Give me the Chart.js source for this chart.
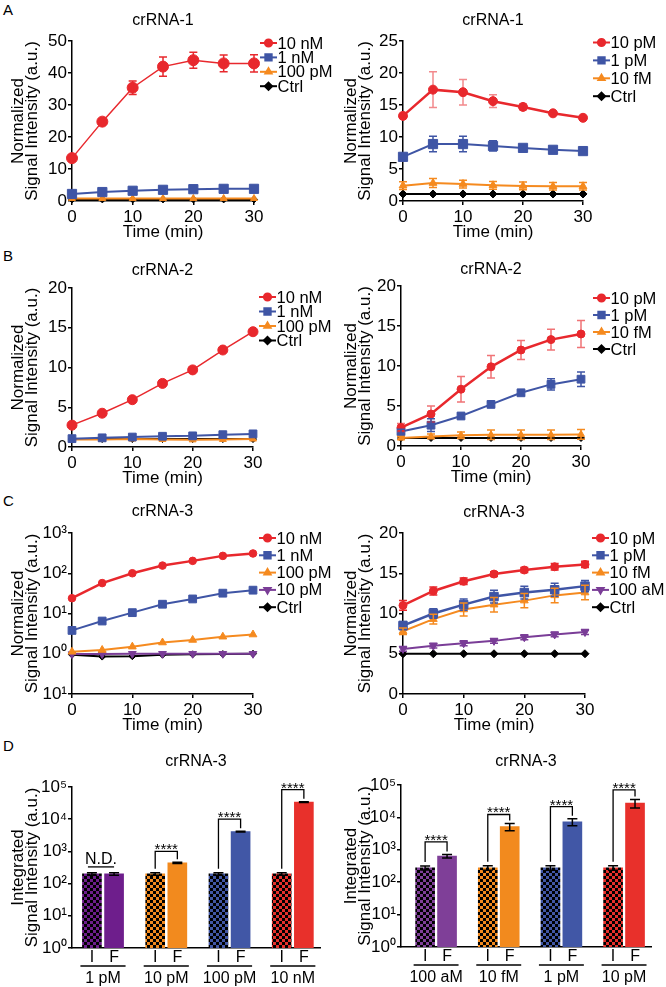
<!DOCTYPE html>
<html>
<head>
<meta charset="utf-8">
<script src="https://cdn.jsdelivr.net/npm/chart.js@4.4.1/dist/chart.umd.min.js"></script>
<style>
  html, body { margin: 0; padding: 0; background: #fff; }
  body { width: 666px; height: 987px; position: relative; overflow: hidden; font-family: 'Liberation Sans', Arial, sans-serif; }
  canvas { position: absolute; }
  .tag { position: absolute; font-size: 15px; color: #000; line-height: 15px; }
</style>
</head>
<body>
<div class="tag" style="left:3px;top:2px">A</div>
<div class="tag" style="left:3px;top:248px">B</div>
<div class="tag" style="left:3px;top:493px">C</div>
<div class="tag" style="left:3px;top:738px">D</div>

<canvas id="aLeft"></canvas>
<canvas id="aRight"></canvas>
<canvas id="bLeft"></canvas>
<canvas id="bRight"></canvas>
<canvas id="cLeft"></canvas>
<canvas id="cRight"></canvas>
<canvas id="dLeft"></canvas>
<canvas id="dRight"></canvas>

<script>
// ---- data ----
const timeMin = [0, 5, 10, 15, 20, 25, 30];

// A, crRNA-1 (high concentrations)
const a1_10nM = [13.4, 24.8, 35.4, 42.0, 44.0, 43.0, 43.0];
const a1_10nM_err = [0.6, 0.6, 2.1, 3.0, 2.5, 2.6, 2.7];
const a1_1nM = [2.2, 2.8, 3.2, 3.5, 3.7, 3.8, 3.8];
const a1_100pM = [0.8, 0.8, 0.8, 0.8, 0.8, 0.8, 0.8];
const a1_ctrl = [0.5, 0.5, 0.5, 0.5, 0.5, 0.5, 0.5];

// A, crRNA-1 (low concentrations)
const a2_10pM = [13.3, 17.4, 17.0, 15.6, 14.7, 13.7, 13.0];
const a2_10pM_err = [0.4, 2.8, 2.0, 1.0, 0.5, 0.3, 0.2];
const a2_1pM = [6.9, 8.9, 8.9, 8.6, 8.3, 8.0, 7.8];
const a2_1pM_err = [0.3, 1.2, 1.2, 0.8, 0.5, 0.3, 0.2];
const a2_10fM = [2.4, 2.8, 2.65, 2.45, 2.35, 2.3, 2.3];
const a2_10fM_err = [0.6, 0.7, 0.6, 0.6, 0.6, 0.6, 0.6];
const a2_ctrl = [1.1, 1.1, 1.1, 1.1, 1.1, 1.1, 1.1];

// B, crRNA-2
const b1_10nM = [2.75, 4.25, 5.95, 8.0, 9.7, 12.2, 14.5];
const b1_1nM = [1.05, 1.15, 1.25, 1.35, 1.4, 1.55, 1.65];
const b1_100pM = [0.95, 0.95, 1.0, 0.95, 0.9, 0.95, 1.0];
const b1_ctrl = [1.0, 1.0, 1.0, 1.0, 1.0, 1.0, 1.0];

const b2_10pM = [2.3, 4.0, 7.1, 9.9, 12.0, 13.3, 14.0];
const b2_10pM_err = [0.5, 1.0, 1.6, 1.4, 1.2, 1.3, 1.7];
const b2_1pM = [1.8, 2.6, 3.75, 5.2, 6.65, 7.7, 8.35];
const b2_1pM_err = [0.3, 0.8, 0.3, 0.3, 0.3, 0.7, 0.9];
const b2_10fM = [1.0, 1.2, 1.35, 1.4, 1.4, 1.4, 1.45];
const b2_10fM_err = [0.2, 0.3, 0.4, 0.6, 0.6, 0.6, 0.6];
const b2_ctrl = [1.0, 1.0, 1.0, 1.0, 1.0, 1.0, 1.0];

// C, crRNA-3
const c1_10nM = [24, 57, 100, 155, 203, 270, 310];
const c1_1nM = [3.8, 6.5, 10.5, 17, 23, 32, 38];
const c1_100pM = [1.12, 1.24, 1.5, 1.9, 2.2, 2.65, 3.0];
const c1_10pM = [0.98, 0.98, 1.0, 1.0, 1.0, 1.0, 1.0];
const c1_ctrl = [0.95, 0.85, 0.87, 0.95, 0.97, 0.98, 1.0];
const cLogTicks = [0.1, 1, 10, 100, 1000];
const cLogTickLabels = ['10¹', '10⁰', '10¹', '10²', '10³'];

const c2_10pM = [11.0, 12.8, 14.0, 14.9, 15.4, 15.8, 16.1];
const c2_10pM_err = [0.6, 0.5, 0.4, 0.3, 0.3, 0.4, 0.4];
const c2_1pM = [8.5, 10.0, 11.1, 12.1, 12.6, 12.95, 13.4];
const c2_1pM_err = [0.5, 0.6, 0.7, 0.8, 0.8, 0.8, 0.7];
const c2_10fM = [7.8, 9.3, 10.5, 11.1, 11.6, 12.25, 12.6];
const c2_10fM_err = [0.4, 0.6, 0.8, 0.9, 0.9, 0.9, 0.9];
const c2_100aM = [5.6, 6.0, 6.3, 6.6, 7.05, 7.4, 7.7];
const c2_100aM_err = [0.3, 0.3, 0.3, 0.3, 0.3, 0.3, 0.3];
const c2_ctrl = [5.0, 5.0, 5.0, 5.0, 5.0, 5.0, 5.0];

// D, integrated signal (I = initial, F = final)
const dPairLabels = ['I', 'F'];
const dLogTicks = [1, 10, 100, 1000, 10000, 100000];
const dLogTickLabels = ['10⁰', '10¹', '10²', '10³', '10⁴', '10⁵'];

const dLeftGroups = ['1 pM', '10 pM', '100 pM', '10 nM'];
const dLeftInitial = [200, 200, 200, 200];
const dLeftInitialErr = [18, 18, 18, 18];
const dLeftFinal = [200, 440, 4100, 34000];
const dLeftFinalErr = [18, 20, 120, 900];
const dLeftBracket = [330, 1000, 10000, 83000];
const dLeftMarks = ['N.D.', '****', '****', '****'];

const dRightGroups = ['100 aM', '10 fM', '1 pM', '10 pM'];
const dRightInitial = [277, 277, 277, 277];
const dRightInitialErr = [40, 45, 45, 45];
const dRightFinal = [640, 5200, 7300, 27500];
const dRightFinalErr = [80, 1300, 1800, 8000];
const dRightBracket = [1750, 12300, 21500, 71000];
const dRightMarks = ['****', '****', '****', '****'];

// ---- styling ----
const FONT = "'Liberation Sans', Arial, sans-serif";
Chart.defaults.font.family = FONT;
Chart.defaults.color = '#000';

const RED = '#e8282d';
const BLUE = '#3f55a5';
const ORANGE = '#f58a1f';
const PURPLE = '#7a3d97';
const BLACK = '#000000';

// ---- plugins ----
const errorBarPlugin = {
  id: 'errorBars',
  afterDatasetsDraw(chart) {
    const ctx = chart.ctx;
    const yScale = chart.scales.y;
    chart.data.datasets.forEach((ds, di) => {
      if (!ds.errorBars) return;
      const meta = chart.getDatasetMeta(di);
      ctx.save();
      ctx.strokeStyle = ds.errorColor || ds.borderColor;
      ctx.lineWidth = 1.5;
      meta.data.forEach((el, i) => {
        const e = ds.errorBars[i];
        if (!e) return;
        const v = ds.data[i].y;
        const top = yScale.getPixelForValue(v + e);
        const bot = yScale.getPixelForValue(Math.max(v - e, yScale.min));
        const cap = ds.capWidth || 4;
        ctx.beginPath();
        ctx.moveTo(el.x, top); ctx.lineTo(el.x, bot);
        ctx.moveTo(el.x - cap, top); ctx.lineTo(el.x + cap, top);
        ctx.moveTo(el.x - cap, bot); ctx.lineTo(el.x + cap, bot);
        ctx.stroke();
      });
      ctx.restore();
    });
  }
};

const panelTitlePlugin = {
  id: 'panelTitle',
  afterDraw(chart, args, opts) {
    if (!opts.text) return;
    const ctx = chart.ctx, area = chart.chartArea;
    ctx.save();
    ctx.font = '16px ' + FONT;
    ctx.fillStyle = '#000';
    ctx.textAlign = 'center';
    ctx.textBaseline = 'middle';
    ctx.fillText(opts.text, (area.left + area.right) / 2, area.top - opts.gap);
    ctx.restore();
  }
};

const lineLegendPlugin = {
  id: 'lineLegend',
  afterDraw(chart, args, opts) {
    if (!opts.show) return;
    const ctx = chart.ctx, area = chart.chartArea;
    const x = area.right + opts.left;
    chart.data.datasets.forEach((ds, i) => {
      const y = area.top + opts.top + i * opts.dy;
      ctx.save();
      ctx.strokeStyle = ds.borderColor;
      ctx.fillStyle = ds.borderColor;
      ctx.lineWidth = 2;
      ctx.beginPath(); ctx.moveTo(x, y); ctx.lineTo(x + 17, y); ctx.stroke();
      Chart.helpers.drawPoint(ctx, {
        pointStyle: ds.pointStyle, rotation: ds.pointRotation || 0,
        radius: ds.pointStyle === 'rect' ? 4.5 : 3.6, borderWidth: 1
      }, x + 8.5, y);
      ctx.fillStyle = '#000';
      ctx.font = '16.5px ' + FONT;
      ctx.textBaseline = 'middle';
      ctx.textAlign = 'left';
      ctx.fillText(ds.label, x + 17.5, y + 1);
      ctx.restore();
    });
  }
};

const sigPlugin = {
  id: 'sigBrackets',
  afterDraw(chart, args, o) {
    if (!o.groups) return;
    const ctx = chart.ctx, xs = chart.scales.x, ys = chart.scales.y;
    const half = o.barThickness / 2;
    ctx.save();
    ctx.strokeStyle = '#000';
    ctx.fillStyle = '#000';
    ctx.lineWidth = 1.3;
    o.groups.forEach((name, i) => {
      const xi = xs.getPixelForValue(i + 1 - o.spread);
      const xf = xs.getPixelForValue(i + 1 + o.spread);
      const yb = ys.getPixelForValue(o.bracket[i]);
      ctx.textAlign = 'center';
      if (o.marks[i] === 'N.D.') {
        ctx.beginPath(); ctx.moveTo(xi - 4, yb); ctx.lineTo(xf, yb); ctx.stroke();
        ctx.font = '16px ' + FONT;
        ctx.textBaseline = 'alphabetic';
        ctx.fillText('N.D.', (xi + xf) / 2 - 2, yb - 3);
      } else {
        const yi = ys.getPixelForValue(o.init[i] + o.initErr[i]) - 4;
        const yf = ys.getPixelForValue(o.fin[i] + o.finErr[i]) - 3;
        ctx.beginPath();
        ctx.moveTo(xi, yi); ctx.lineTo(xi, yb); ctx.lineTo(xf, yb); ctx.lineTo(xf, yf);
        ctx.stroke();
        ctx.font = '15px ' + FONT;
        ctx.textBaseline = 'alphabetic';
        ctx.fillText(o.marks[i], (xi + xf) / 2, yb + 3);
      }
      // group underline and concentration label below the I / F ticks
      const base = xs.top;
      ctx.beginPath();
      ctx.moveTo(xi - half - 2, base + 18); ctx.lineTo(xf + half + 2, base + 18);
      ctx.stroke();
      ctx.font = '16px ' + FONT;
      ctx.textBaseline = 'middle';
      ctx.fillText(name, (xi + xf) / 2, base + 30.5);
    });
    ctx.restore();
  }
};

// ---- helpers ----
function place(id, b) {
  const c = document.getElementById(id);
  c.width = b.w; c.height = b.h;
  c.style.left = b.left + 'px'; c.style.top = b.top + 'px';
  c.style.width = b.w + 'px'; c.style.height = b.h + 'px';
  return c;
}

function series(label, values, color, pointStyle, radius, extra) {
  return Object.assign({
    label: label,
    data: timeMin.map((t, i) => ({ x: t, y: values[i] })),
    borderColor: color, backgroundColor: color,
    pointBackgroundColor: color, pointBorderColor: color,
    pointStyle: pointStyle, pointRadius: radius, pointBorderWidth: 1,
    borderWidth: 2, tension: 0, clip: false
  }, extra || {});
}

function axisBase() {
  return {
    grid: { display: true, drawOnChartArea: false, drawTicks: true, tickLength: 4, color: '#000', lineWidth: 1.5 },
    border: { display: true, color: '#000', width: 1.5 }
  };
}

function linePanel(id, box, p) {
  const canvas = place(id, box);
  const y = Object.assign(axisBase(), {
    type: p.yType || 'linear',
    min: p.yMin, max: p.yMax,
    ticks: { stepSize: p.yStep, font: { size: 17 }, padding: 1, color: '#000' },
    title: {
      display: true, text: ['Normalized', 'Signal Intensity (a.u.)'],
      font: { size: 17, lineHeight: '14px' }, padding: { top: 11, bottom: 0 }, color: '#000'
    },
    afterFit: s => { s.width = box.yW; }
  });
  if (p.logTicks) {
    y.afterBuildTicks = s => { s.ticks = p.logTicks.map(v => ({ value: v })); };
    y.ticks.callback = (v, i) => p.logLabels[i];
  }
  new Chart(canvas, {
    type: 'line',
    data: { datasets: p.datasets },
    options: {
      responsive: false, animation: false, devicePixelRatio: 1,
      layout: { padding: { left: 0, right: box.padR, top: box.padT, bottom: box.padB } },
      plugins: {
        legend: { display: false }, tooltip: { enabled: false },
        panelTitle: { text: p.title, gap: p.titleGap },
        lineLegend: { show: true, left: p.legend.left, top: p.legend.top, dy: p.legend.dy }
      },
      scales: {
        x: Object.assign(axisBase(), {
          type: 'linear', min: 0, max: 30,
          ticks: { stepSize: 10, font: { size: 17 }, padding: 2, color: '#000', maxRotation: 0 },
          title: { display: true, text: 'Time (min)', font: { size: 17, lineHeight: 1.2 }, padding: 0, color: '#000' },
          afterFit: s => { s.height = box.xH; }
        }),
        y: y
      }
    },
    plugins: [errorBarPlugin, panelTitlePlugin, lineLegendPlugin]
  });
}

function checker(color) {
  const c = document.createElement('canvas');
  c.width = 6; c.height = 6;
  const g = c.getContext('2d');
  g.fillStyle = color; g.fillRect(0, 0, 6, 6);
  g.fillStyle = '#000'; g.fillRect(0, 0, 3, 3); g.fillRect(3, 3, 3, 3);
  return g.createPattern(c, 'repeat');
}

function barPanel(id, box, p) {
  const canvas = place(id, box);
  const spread = 0.175, thick = 19;
  const tickPos = [];
  p.groups.forEach((g, i) => { tickPos.push(i + 1 - spread, i + 1 + spread); });
  new Chart(canvas, {
    type: 'bar',
    data: {
      datasets: [
        {
          label: 'I', data: p.init.map((v, i) => ({ x: i + 1 - spread, y: v })),
          backgroundColor: p.colors.map(checker), barThickness: thick, grouped: false,
          errorBars: p.initErr, errorColor: '#000', capWidth: 5, borderWidth: 0
        },
        {
          label: 'F', data: p.fin.map((v, i) => ({ x: i + 1 + spread, y: v })),
          backgroundColor: p.colors, barThickness: thick, grouped: false,
          errorBars: p.finErr, errorColor: '#000', capWidth: 5, borderWidth: 0
        }
      ]
    },
    options: {
      responsive: false, animation: false, devicePixelRatio: 1,
      layout: { padding: { left: 0, right: box.padR, top: box.padT, bottom: box.padB } },
      plugins: {
        legend: { display: false }, tooltip: { enabled: false },
        panelTitle: { text: 'crRNA-3', gap: p.titleGap },
        sigBrackets: {
          groups: p.groups, init: p.init, initErr: p.initErr, fin: p.fin, finErr: p.finErr,
          bracket: p.bracket, marks: p.marks, spread: spread, barThickness: thick
        }
      },
      scales: {
        x: {
          type: 'linear', min: p.xMin, max: p.xMax, offset: false,
          grid: { display: false, drawTicks: false, offset: false },
          border: { display: true, color: '#000', width: 1.5 },
          afterBuildTicks: s => { s.ticks = tickPos.map(v => ({ value: v })); },
          ticks: { autoSkip: false, maxRotation: 0, font: { size: 16 }, padding: 0, color: '#000',
                   callback: (v, i) => dPairLabels[i % 2] },
          afterFit: s => { s.height = box.xH; }
        },
        y: Object.assign(axisBase(), {
          type: 'logarithmic', min: 1, max: 100000,
          afterBuildTicks: s => { s.ticks = dLogTicks.map(v => ({ value: v })); },
          ticks: { font: { size: 17 }, padding: 1, color: '#000', callback: (v, i) => dLogTickLabels[i] },
          title: {
            display: true, text: ['Integrated', 'Signal Intensity (a.u.)'],
            font: { size: 17, lineHeight: '14px' }, padding: { top: 11, bottom: 0 }, color: '#000'
          },
          afterFit: s => { s.width = box.yW; }
        })
      }
    },
    plugins: [errorBarPlugin, panelTitlePlugin, sigPlugin]
  });
}

// ---- panels ----
linePanel('aLeft', { left: 0, top: 0, w: 333, h: 250, yW: 72, padR: 79, padT: 41, xH: 42, padB: 7 }, {
  yMin: 0, yMax: 50, yStep: 10, title: 'crRNA-1', titleGap: 20,
  legend: { left: 6, top: 2, dy: 14.4 },
  datasets: [
    series('10 nM', a1_10nM, RED, 'circle', 5.5, { errorBars: a1_10nM_err, borderWidth: 1.5 }),
    series('1 nM', a1_1nM, BLUE, 'rect', 6.5),
    series('100 pM', a1_100pM, ORANGE, 'triangle', 4),
    series('Ctrl', a1_ctrl, BLACK, 'rectRot', 3.5)
  ]
});

linePanel('aRight', { left: 333, top: 0, w: 333, h: 250, yW: 70, padR: 83, padT: 41, xH: 42, padB: 7 }, {
  yMin: 0, yMax: 25, yStep: 5, title: 'crRNA-1', titleGap: 20,
  legend: { left: 10, top: 1.5, dy: 17.9 },
  datasets: [
    series('10 pM', a2_10pM, RED, 'circle', 4.5, { errorBars: a2_10pM_err, errorColor: 'rgba(232,40,45,0.55)', borderWidth: 2.5 }),
    series('1 pM', a2_1pM, BLUE, 'rect', 6.5, { errorBars: a2_1pM_err }),
    series('10 fM', a2_10fM, ORANGE, 'triangle', 4.5, { errorBars: a2_10fM_err }),
    series('Ctrl', a2_ctrl, BLACK, 'rectRot', 4)
  ]
});

linePanel('bLeft', { left: 0, top: 250, w: 333, h: 245, yW: 72, padR: 80, padT: 38, xH: 42, padB: 6 }, {
  yMin: 0, yMax: 20, yStep: 5, title: 'crRNA-2', titleGap: 17,
  legend: { left: 6, top: 9, dy: 14.5 },
  datasets: [
    series('10 nM', b1_10nM, RED, 'circle', 5, { borderWidth: 1.5 }),
    series('1 nM', b1_1nM, BLUE, 'rect', 5.5),
    series('100 pM', b1_100pM, ORANGE, 'triangle', 4),
    series('Ctrl', b1_ctrl, BLACK, 'rectRot', 3.5)
  ]
});

linePanel('bRight', { left: 333, top: 250, w: 333, h: 245, yW: 68, padR: 85, padT: 36, xH: 42, padB: 7 }, {
  yMin: 0, yMax: 20, yStep: 5, title: 'crRNA-2', titleGap: 16,
  legend: { left: 12, top: 12, dy: 17 },
  datasets: [
    series('10 pM', b2_10pM, RED, 'circle', 4, { errorBars: b2_10pM_err, errorColor: 'rgba(232,40,45,0.65)', borderWidth: 2.5 }),
    series('1 pM', b2_1pM, BLUE, 'rect', 5.5, { errorBars: b2_1pM_err }),
    series('10 fM', b2_10fM, ORANGE, 'triangle', 4, { errorBars: b2_10fM_err }),
    series('Ctrl', b2_ctrl, BLACK, 'rectRot', 3.5)
  ]
});

linePanel('cLeft', { left: 0, top: 495, w: 333, h: 255, yW: 72, padR: 80, padT: 38, xH: 42, padB: 14 }, {
  yType: 'logarithmic', yMin: 0.1, yMax: 1000, logTicks: cLogTicks, logLabels: cLogTickLabels,
  title: 'crRNA-3', titleGap: 21,
  legend: { left: 6, top: 5, dy: 17.3 },
  datasets: [
    series('10 nM', c1_10nM, RED, 'circle', 3.8, { borderWidth: 2.5 }),
    series('1 nM', c1_1nM, BLUE, 'rect', 5.5),
    series('100 pM', c1_100pM, ORANGE, 'triangle', 4.5),
    series('10 pM', c1_10pM, PURPLE, 'triangle', 4.5, { pointRotation: 180 }),
    series('Ctrl', c1_ctrl, BLACK, 'rectRot', 3.5)
  ]
});

linePanel('cRight', { left: 333, top: 495, w: 333, h: 255, yW: 70, padR: 81, padT: 38, xH: 42, padB: 14 }, {
  yMin: 0, yMax: 20, yStep: 5, title: 'crRNA-3', titleGap: 20,
  legend: { left: 7, top: 5, dy: 17.3 },
  datasets: [
    series('10 pM', c2_10pM, RED, 'circle', 4, { errorBars: c2_10pM_err, borderWidth: 2.5 }),
    series('1 pM', c2_1pM, BLUE, 'rect', 6, { errorBars: c2_1pM_err, borderWidth: 2.5 }),
    series('10 fM', c2_10fM, ORANGE, 'triangle', 4.5, { errorBars: c2_10fM_err }),
    series('100 aM', c2_100aM, PURPLE, 'triangle', 4.5, { pointRotation: 180, errorBars: c2_100aM_err }),
    series('Ctrl', c2_ctrl, BLACK, 'rectRot', 4)
  ]
});

barPanel('dLeft', { left: 0, top: 750, w: 333, h: 237, yW: 72, padR: 13, padT: 37, xH: 39, padB: 0 }, {
  groups: dLeftGroups, init: dLeftInitial, initErr: dLeftInitialErr,
  fin: dLeftFinal, finErr: dLeftFinalErr, bracket: dLeftBracket, marks: dLeftMarks,
  colors: ['#6e1e8c', '#f28a1e', '#4157a6', '#e8302b'],
  xMin: 0.51, xMax: 4.43, titleGap: 25
});

barPanel('dRight', { left: 333, top: 750, w: 333, h: 237, yW: 68, padR: 15, padT: 35, xH: 40, padB: 0 }, {
  groups: dRightGroups, init: dRightInitial, initErr: dRightInitialErr,
  fin: dRightFinal, finErr: dRightFinalErr, bracket: dRightBracket, marks: dRightMarks,
  colors: ['#7f3f98', '#f28a1e', '#4157a6', '#e8302b'],
  xMin: 0.44, xMax: 4.43, titleGap: 23
});
</script>
</body>
</html>
